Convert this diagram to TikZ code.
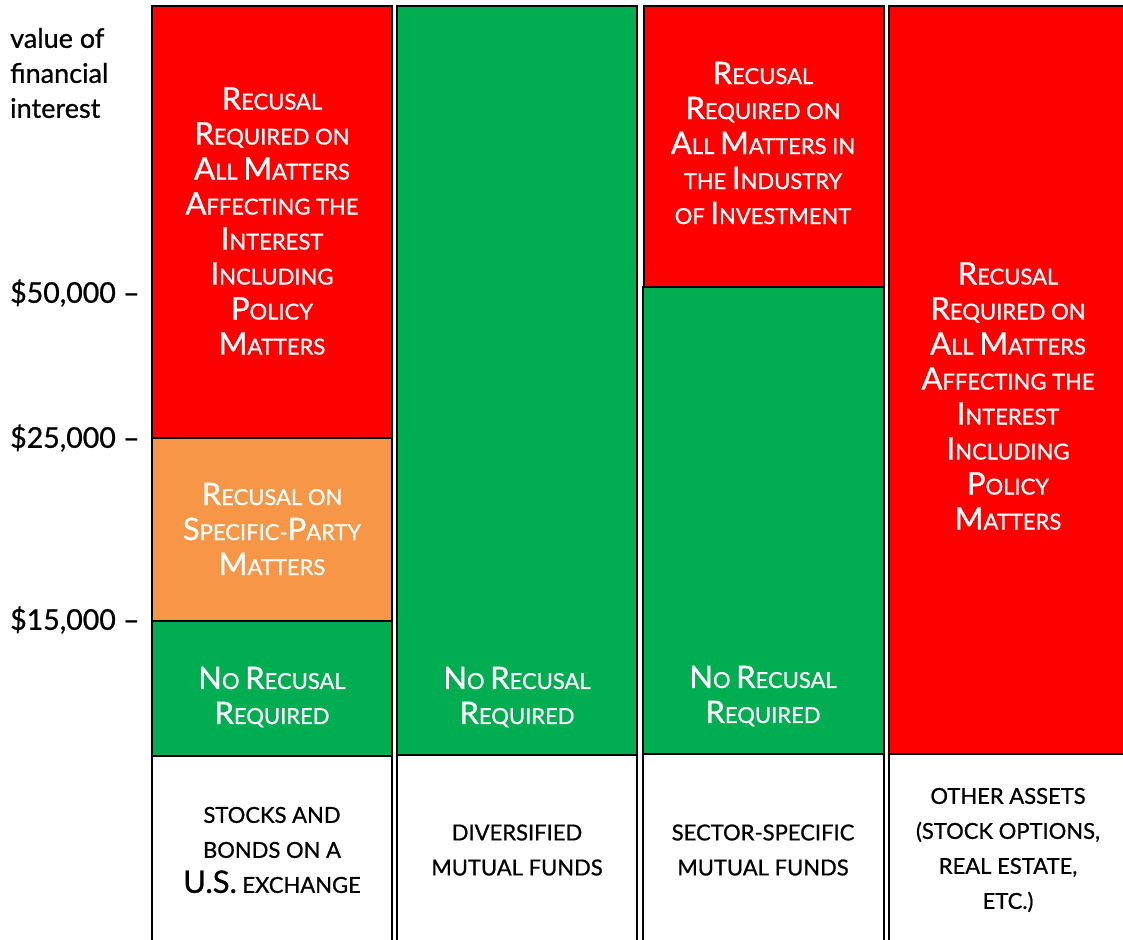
\documentclass[tikz,border=0pt]{standalone}
\usepackage{fontspec}
\setmainfont{Lato}[FakeBold=0.8]
\definecolor{cred}{HTML}{FF0000}
\definecolor{cgreen}{HTML}{00AD50}
\definecolor{corange}{HTML}{F79646}
\newcommand\bc[1]{{\fontsize{31}{35}\selectfont #1}}
\tikzset{
  blk/.style={draw=black, line width=2pt},
  wtxt/.style={text=white, align=center, font=\fontsize{22}{35}\selectfont, inner sep=0pt},
  btxt/.style={text=black, align=center, font=\fontsize{22}{35}\selectfont, inner sep=0pt},
  ltxt/.style={text=black, align=left, anchor=west, font=\fontsize{27}{35}\selectfont, inner sep=0pt},
  dtxt/.style={text=black, anchor=west, font=\fontsize{28.5}{35}\selectfont, inner sep=0pt},
  edge/.style={draw=black, line width=2pt}
}
\begin{document}
\begin{tikzpicture}[x=1pt,y=-1pt]
\useasboundingbox (0,0) rectangle (1123,939);
% column 1
\path[blk, fill=cred] (152,6) rectangle (392,438);
\path[blk, fill=corange] (152,438) rectangle (392,621);
\path[blk, fill=cgreen] (152,621) rectangle (392,756);
\draw[edge] (152,756) -- (152,945);
\draw[edge] (392,756) -- (392,945);
% column 2
\path[blk, fill=cgreen] (397,6) rectangle (637,755);
\draw[edge] (397,755) -- (397,945);
\draw[edge] (637,755) -- (637,945);
% column 3
\path[blk, fill=cred] (644,6) rectangle (884,287);
\path[blk, fill=cgreen] (643,287) rectangle (884,754);
\draw[edge] (643,754) -- (643,945);
\draw[edge] (884,754) -- (884,945);
% column 4
\path[blk, fill=cred] (889,6) rectangle (1130,754);
\draw[edge] (889,754) -- (889,945);

% left axis labels
\node[ltxt] (axis) at (10,73) {value of\\financial\\interest};
\node[dtxt] (v50) at (10,293) {\$50,000 –};
\node[dtxt] (v25) at (10,438) {\$25,000 –};
\node[dtxt] (v15) at (10,620) {\$15,000 –};

% texts
\node[wtxt] (t1) at (272,221) {\bc{R}ECUSAL\\\bc{R}EQUIRED ON\\\bc{A}LL \bc{M}ATTERS\\\bc{A}FFECTING THE\\\bc{I}NTEREST\\\bc{I}NCLUDING\\\bc{P}OLICY\\\bc{M}ATTERS};
\node[wtxt] (t2) at (272,529) {\bc{R}ECUSAL ON\\\bc{S}PECIFIC-\bc{P}ARTY\\\bc{M}ATTERS};
\node[wtxt] (t3) at (272,697) {\bc{N}O \bc{R}ECUSAL\\\bc{R}EQUIRED};
\node[wtxt] (t4) at (517,697) {\bc{N}O \bc{R}ECUSAL\\\bc{R}EQUIRED};
\node[wtxt] (t5) at (763,143) {\bc{R}ECUSAL\\\bc{R}EQUIRED ON\\\bc{A}LL \bc{M}ATTERS IN\\THE \bc{I}NDUSTRY\\OF \bc{I}NVESTMENT};
\node[wtxt] (t6) at (763,696) {\bc{N}O \bc{R}ECUSAL\\\bc{R}EQUIRED};
\node[wtxt] (t7) at (1008,396) {\bc{R}ECUSAL\\\bc{R}EQUIRED ON\\\bc{A}LL \bc{M}ATTERS\\\bc{A}FFECTING THE\\\bc{I}NTEREST\\\bc{I}NCLUDING\\\bc{P}OLICY\\\bc{M}ATTERS};

% bottom labels
\node[btxt] (b1) at (272,850) {STOCKS AND\\BONDS ON A\\\bc{U.S.} EXCHANGE};
\node[btxt] (b2) at (517,850) {DIVERSIFIED\\MUTUAL FUNDS};
\node[btxt] (b3) at (763,850) {SECTOR-SPECIFIC\\MUTUAL FUNDS};
\node[btxt] (b4) at (1008,850) {OTHER ASSETS\\(STOCK OPTIONS,\\REAL ESTATE,\\ETC.)};
\end{tikzpicture}
\end{document}
